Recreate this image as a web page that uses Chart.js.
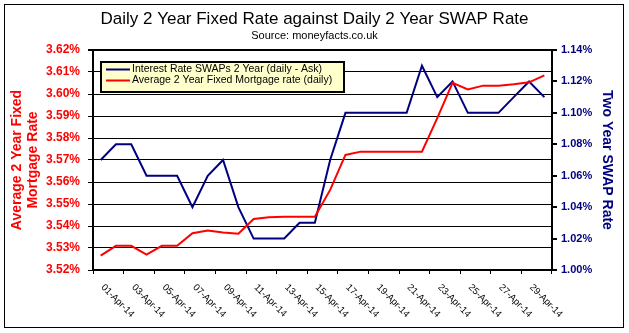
<!DOCTYPE html>
<html>
<head>
<meta charset="utf-8">
<script src="https://cdn.jsdelivr.net/npm/chart.js@4/dist/chart.umd.min.js"></script>
<style>
  body { margin: 0; background: white; }
</style>
</head>
<body>
<canvas id="chart" width="629" height="333"></canvas>
<script>
"use strict"

const days = [
  "01-Apr-14", "02-Apr-14", "03-Apr-14", "04-Apr-14", "05-Apr-14", "06-Apr-14",
  "07-Apr-14", "08-Apr-14", "09-Apr-14", "10-Apr-14", "11-Apr-14", "12-Apr-14",
  "13-Apr-14", "14-Apr-14", "15-Apr-14", "16-Apr-14", "17-Apr-14", "18-Apr-14",
  "19-Apr-14", "20-Apr-14", "21-Apr-14", "22-Apr-14", "23-Apr-14", "24-Apr-14",
  "25-Apr-14", "26-Apr-14", "27-Apr-14", "28-Apr-14", "29-Apr-14", "30-Apr-14"
]

// swap rate, right axis
const swap = [
  1.07, 1.08, 1.08, 1.06, 1.06, 1.06, 1.04, 1.06, 1.07, 1.04,
  1.02, 1.02, 1.02, 1.03, 1.03, 1.07, 1.10, 1.10, 1.10, 1.10,
  1.10, 1.13, 1.11, 1.12, 1.10, 1.10, 1.10, 1.11, 1.12, 1.11
]

// average fixed mortgage rate, left axis
const fixed = [
  3.5265, 3.531, 3.531, 3.527, 3.531, 3.531, 3.5367, 3.538, 3.537, 3.5365,
  3.5432, 3.544, 3.5442, 3.5442, 3.5442, 3.5564, 3.5723, 3.5738, 3.5738, 3.5738,
  3.5738, 3.5738, 3.589, 3.6051, 3.6021, 3.6038, 3.6038, 3.6044, 3.6053, 3.6085
]

const swapLabel = "Interest Rate SWAPs 2 Year (daily - Ask)"
const fixedLabel = "Average 2 Year Fixed Mortgage rate (daily)"

const FONT = "'Liberation Sans', Arial, sans-serif"
const RED = "#ff0000", NAVY = "#000080"

Chart.defaults.font.family = FONT

const framePlugin = {
  id: "frame",
  beforeDraw: chart => {
    const ctx = chart.ctx
    ctx.save()
    ctx.fillStyle = "white"
    ctx.fillRect(0, 0, chart.width, chart.height)
    ctx.restore()
  },
  afterDraw: chart => {
    const ctx = chart.ctx
    ctx.save()
    ctx.strokeStyle = "black"
    ctx.lineWidth = 1
    ctx.strokeRect(4.5, 4.5, chart.width - 10, chart.height - 10)
    ctx.restore()
  }
}

// x labels read downwards to the right, like the excel original
const xLabelPlugin = {
  id: "xlabels",
  afterDraw: chart => {
    const ctx = chart.ctx, xs = chart.scales.x
    ctx.save()
    ctx.font = "9.5px " + FONT
    ctx.fillStyle = "black"
    ctx.textAlign = "left"
    ctx.textBaseline = "middle"
    for (let i = 0; i < days.length; i += 2) {
      ctx.save()
      ctx.translate(xs.getPixelForTick(i) + 2, xs.top + 16)
      ctx.rotate(Math.PI / 4)
      ctx.fillText(days[i], 0, 0)
      ctx.restore()
    }
    ctx.restore()
  }
}

const legendPlugin = {
  id: "boxlegend",
  afterDraw: chart => {
    const ctx = chart.ctx, area = chart.chartArea
    const x = area.left + 8, y = area.top + 12
    ctx.save()
    ctx.fillStyle = "#ffffcc"
    ctx.fillRect(x, y, 243, 30)
    ctx.strokeStyle = "black"
    ctx.lineWidth = 2
    ctx.strokeRect(x, y, 243, 30)
    ctx.font = "10.5px " + FONT
    ctx.textBaseline = "middle"
    chart.data.datasets.forEach((ds, i) => {
      const ly = y + 7.5 + i * 11
      ctx.strokeStyle = ds.borderColor
      ctx.lineWidth = 2
      ctx.beginPath()
      ctx.moveTo(x + 5, ly)
      ctx.lineTo(x + 29, ly)
      ctx.stroke()
      ctx.fillStyle = "black"
      ctx.fillText(ds.label, x + 31, ly)
    })
    ctx.restore()
  }
}

new Chart("chart", {
  type: "line",
  data: {
    labels: days,
    datasets: [
      { label: swapLabel, data: swap, yAxisID: "y1", borderColor: NAVY, borderWidth: 2,
        pointRadius: 0, tension: 0, fill: false, order: 1 },
      { label: fixedLabel, data: fixed, yAxisID: "y", borderColor: RED, borderWidth: 2,
        pointRadius: 0, tension: 0, fill: false, order: 0 }
    ]
  },
  options: {
    responsive: false,
    animation: false,
    devicePixelRatio: 1,
    layout: { padding: 0 },
    plugins: {
      legend: { display: false },
      tooltip: { enabled: false },
      title: {
        display: true,
        text: "Daily 2 Year Fixed Rate against Daily 2 Year SWAP Rate",
        color: "black",
        font: { size: 17, weight: "normal", lineHeight: 1.2 },
        padding: { top: 9, bottom: 0 }
      },
      subtitle: {
        display: true,
        text: "Source: moneyfacts.co.uk",
        color: "black",
        font: { size: 11, lineHeight: 1.2 },
        padding: { top: 0, bottom: 7.4 }
      }
    },
    scales: {
      x: {
        offset: true,
        afterFit: s => { s.height = 63 },
        border: { display: true, color: "black", width: 2 },
        grid: {
          offset: true,
          drawOnChartArea: false,
          tickLength: 4,
          color: c => (c.index !== undefined && c.index % 2) ? "transparent" : "black"
        },
        ticks: { display: false, autoSkip: false }
      },
      y: {
        position: "left",
        min: 3.52,
        max: 3.62,
        afterFit: s => { s.width = 93 },
        border: { display: true, color: "black", width: 2 },
        grid: {
          color: "black",
          lineWidth: c => c.index === 10 ? 2 : 1,
          tickLength: 5
        },
        ticks: {
          stepSize: 0.01,
          padding: 8,
          color: RED,
          font: { size: 12, weight: "bold" },
          callback: v => v.toFixed(2) + "%"
        },
        title: {
          display: true,
          text: ["Average 2 Year Fixed", "Mortgage Rate"],
          color: RED,
          font: { size: 14, weight: "bold", lineHeight: 1.15 },
          padding: { top: 9, bottom: 0 }
        }
      },
      y1: {
        position: "right",
        min: 1.00,
        max: 1.14,
        afterFit: s => { s.width = 77 },
        border: { display: true, color: "black", width: 2 },
        grid: { drawOnChartArea: false, color: "black", lineWidth: 2, tickLength: 5 },
        ticks: {
          stepSize: 0.02,
          padding: 4,
          color: NAVY,
          font: { size: 11, weight: "bold" },
          callback: v => v.toFixed(2) + "%"
        },
        title: {
          display: true,
          text: "Two Year SWAP Rate",
          color: NAVY,
          font: { size: 14, weight: "bold", lineHeight: 1.15 },
          padding: { top: 14, bottom: 0 }
        }
      }
    }
  },
  plugins: [framePlugin, xLabelPlugin, legendPlugin]
})
</script>
</body>
</html>
